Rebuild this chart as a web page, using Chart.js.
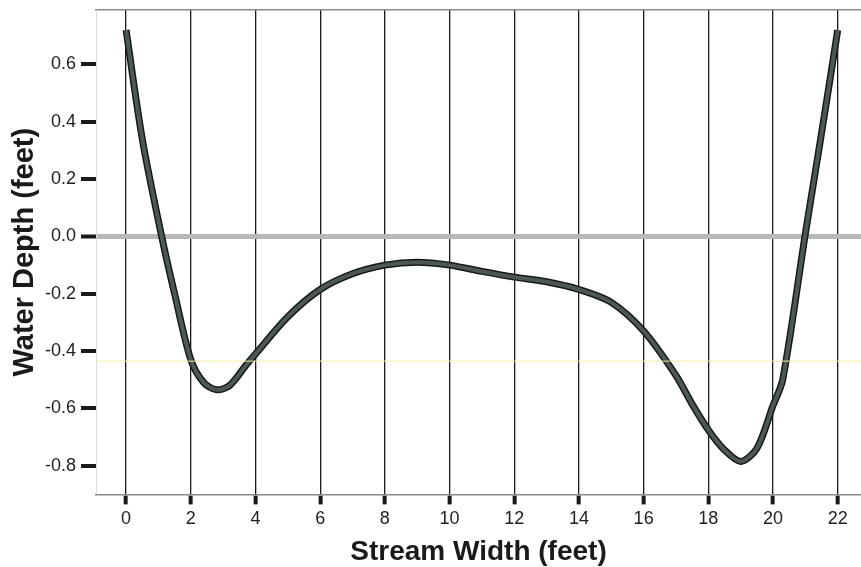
<!DOCTYPE html>
<html>
<head>
<meta charset="utf-8">
<script src="https://cdn.jsdelivr.net/npm/chart.js@4.4.1/dist/chart.umd.min.js"></script>
<style>
  html, body { margin: 0; padding: 0; background: #fff; }
  #wrap { width: 861px; height: 567px; }
</style>
</head>
<body>
<div id="wrap"><canvas id="profileChart"></canvas></div>
<script>
// Stream cross-section profile
const widthFt = [0, 0.5, 1.1, 1.5, 2, 2.4, 2.8, 3.2, 3.7, 4, 5, 6, 7, 8, 9, 10, 11, 12, 13, 14, 15, 16, 17, 17.5, 18, 18.5, 19, 19.5, 20, 20.3, 21, 21.5, 22];
const depthFt = [0.72, 0.34, 0.0, -0.2, -0.43, -0.51, -0.535, -0.52, -0.45, -0.41, -0.28, -0.185, -0.13, -0.1, -0.09, -0.1, -0.122, -0.142, -0.158, -0.185, -0.23, -0.33, -0.485, -0.585, -0.675, -0.745, -0.785, -0.74, -0.59, -0.5, 0.01, 0.36, 0.72];

const xTicks = [0, 2, 4, 6, 8, 10, 12, 14, 16, 18, 20, 22];
const yTicks = [0.6, 0.4, 0.2, 0.0, -0.2, -0.4, -0.6, -0.8];
const xRange = [-0.93, 22.72];
const yRange = [-0.9, 0.79];
const scanLineY = -0.435; // faint yellow streak in the scan

Chart.defaults.font.family = '"Liberation Sans", Arial, sans-serif';
Chart.defaults.color = '#111';

const profilePoints = widthFt.map((x, i) => ({ x: x, y: depthFt[i] }));

new Chart(document.getElementById('profileChart'), {
  type: 'line',
  data: {
    datasets: [{
      data: xRange.map(x => ({ x: x, y: scanLineY })),
      borderColor: '#f3ee9c',
      borderWidth: 1,
      pointRadius: 0
    }, {
      // inner fill of the thick profile line
      data: profilePoints,
      borderColor: '#4d5856',
      borderWidth: 4,
      tension: 0.3,
      pointRadius: 0
    }, {
      // dark outline
      data: profilePoints,
      borderColor: '#151a19',
      borderWidth: 7,
      tension: 0.3,
      pointRadius: 0
    }]
  },
  options: {
    responsive: true,
    maintainAspectRatio: false,
    animation: false,
    layout: { padding: { left: 6, top: 0, right: 0, bottom: 0 } },
    plugins: {
      legend: { display: false },
      tooltip: { enabled: false }
    },
    scales: {
      x: {
        type: 'linear',
        min: xRange[0],
        max: xRange[1],
        afterBuildTicks: scale => { scale.ticks = xTicks.map(v => ({ value: v })); },
        ticks: {
          font: { size: 18 },
          color: '#222',
          padding: 4,
          maxRotation: 0,
          autoSkip: false
        },
        grid: {
          color: '#1a1a1a',
          lineWidth: 1.3,
          tickColor: '#1a1a1a',
          tickWidth: 4,
          tickLength: 10
        },
        border: { display: true, color: '#8a8a8a', width: 1.5 },
        title: {
          display: true,
          text: 'Stream Width (feet)',
          font: { size: 28, weight: 'bold', lineHeight: 1 },
          color: '#1a1a1a',
          padding: { top: 4, bottom: 1 }
        }
      },
      x2: {
        type: 'linear',
        position: 'top',
        min: xRange[0],
        max: xRange[1],
        ticks: { display: false, padding: 0 },
        grid: { display: false, drawTicks: false },
        border: { display: true, color: '#8a8a8a', width: 1.5 }
      },
      y: {
        type: 'linear',
        min: yRange[0],
        max: yRange[1],
        afterBuildTicks: scale => { scale.ticks = yTicks.map(v => ({ value: v })); },
        ticks: {
          font: { size: 18, lineHeight: 0.56 },
          color: '#222',
          padding: 5,
          callback: v => v.toFixed(1)
        },
        grid: {
          color: ctx => ctx.tick && ctx.tick.value === 0 ? '#b8b8b8' : 'rgba(0,0,0,0)',
          lineWidth: ctx => ctx.tick && ctx.tick.value === 0 ? 5 : 0,
          tickColor: '#1a1a1a',
          tickWidth: 4,
          tickLength: 15
        },
        border: { display: true, color: '#dcdcdc', width: 1 },
        title: {
          display: true,
          text: 'Water Depth (feet)',
          font: { size: 29, weight: 'bold', lineHeight: 1 },
          color: '#1a1a1a',
          padding: { top: 4, bottom: 1 }
        }
      }
    }
  }
});
</script>
</body>
</html>
